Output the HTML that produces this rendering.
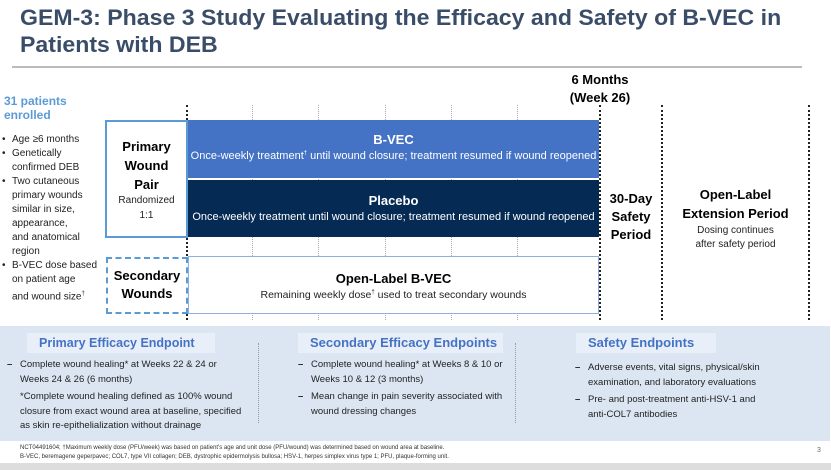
<!DOCTYPE html>
<html><head><meta charset="utf-8"><style>
*{margin:0;padding:0;box-sizing:border-box}
body{width:831px;height:470px;position:relative;background:#fff;font-family:"Liberation Sans",sans-serif;overflow:hidden;color:#000}
.a{position:absolute}
.t{font-weight:bold;color:#3a4d68;font-size:22px;left:20px;transform-origin:left top;transform:scaleX(1.05);white-space:nowrap}
.c{text-align:center;white-space:nowrap}
.vd{position:absolute;width:0;border-left:1px dotted #aaa;top:105px;height:215px}
.vk{position:absolute;width:0;border-left:2px dotted #222;top:105px;height:215px}
ul{list-style:none}
.bl li{position:relative;padding-left:12px;font-size:10px;line-height:14px;color:#222;white-space:nowrap}
.bl li:before{content:"•";position:absolute;left:2px}
.ep li{position:relative;padding-left:13px;font-size:9.5px;line-height:14.5px;color:#222;margin-bottom:3px;white-space:nowrap}
.ep li:before{content:"–";position:absolute;left:0;font-weight:bold}
.hd{position:absolute;top:333px;height:20px;background:#e9eff8;color:#4472c4;font-size:13px;font-weight:bold;padding-left:12px;line-height:20px;white-space:nowrap}
</style></head><body>
<div class="a t" style="top:5px">GEM-3: Phase 3 Study Evaluating the Efficacy and Safety of B-VEC in</div>
<div class="a t" style="top:32px">Patients with DEB</div>
<div class="a" style="left:12px;top:66px;width:790px;height:2px;background:#bbb"></div>

<div class="a" style="left:4px;top:94px;color:#5b9bd5;font-weight:bold;font-size:12px;line-height:14px">31 patients<br>enrolled</div>
<ul class="a bl" style="left:0;top:133px">
<li>Age ≥6 months</li><li>Genetically<br>confirmed DEB</li><li>Two cutaneous<br>primary wounds<br>similar in size,<br>appearance,<br>and anatomical<br>region</li><li>B-VEC dose based<br>on patient age<br>and wound size<sup style="font-size:6px">†</sup></li>
</ul>

<div class="vd" style="left:252px"></div><div class="vd" style="left:318px"></div><div class="vd" style="left:385px"></div><div class="vd" style="left:451px"></div><div class="vd" style="left:517px"></div>
<div class="vk" style="left:186px"></div><div class="vk" style="left:599px"></div><div class="vk" style="left:661px"></div><div class="vk" style="left:808px"></div>

<div class="a" style="left:105px;top:120px;width:83px;height:118px;border:2px solid #5b9bd5;background:#fff"></div>
<div class="a c" style="left:105px;top:137px;width:83px;font-weight:bold;font-size:13px;line-height:19px">Primary<br>Wound<br>Pair</div>
<div class="a c" style="left:105px;top:193px;width:83px;font-size:10px;line-height:15px;color:#222">Randomized<br>1:1</div>

<div class="a" style="left:188px;top:120px;width:411px;height:58px;background:#4472c4"></div>
<div class="a c" style="left:188px;top:132px;width:411px;color:#fff;font-weight:bold;font-size:13px">B-VEC</div>
<div class="a c" style="left:188px;top:150px;width:411px;color:#fff;font-size:11px">Once-weekly treatment<sup style="font-size:6px">†</sup> until wound closure; treatment resumed if wound reopened</div>
<div class="a" style="left:188px;top:180px;width:411px;height:57px;background:#052a54"></div>
<div class="a c" style="left:188px;top:193px;width:411px;color:#fff;font-weight:bold;font-size:13px">Placebo</div>
<div class="a c" style="left:188px;top:211px;width:411px;color:#fff;font-size:11px">Once-weekly treatment until wound closure; treatment resumed if wound reopened</div>

<div class="a" style="left:106px;top:257px;width:82px;height:57px;border:2px dashed #5b9bd5;background:#fff"></div>
<div class="a c" style="left:106px;top:267px;width:82px;font-weight:bold;font-size:13px;line-height:18px">Secondary<br>Wounds</div>
<div class="a" style="left:188px;top:256px;width:411px;height:58px;border:1px solid #8fb0de;background:#fff"></div>
<div class="a c" style="left:188px;top:271px;width:411px;font-weight:bold;font-size:13px">Open-Label B-VEC</div>
<div class="a c" style="left:188px;top:289px;width:411px;font-size:10.5px;color:#222">Remaining weekly dose<sup style="font-size:6px">†</sup> used to treat secondary wounds</div>

<div class="a c" style="left:560px;top:71px;width:80px;font-weight:bold;font-size:13px;line-height:18px">6 Months<br>(Week 26)</div>
<div class="a c" style="left:601px;top:190px;width:60px;font-weight:bold;font-size:13px;line-height:18px">30-Day<br>Safety<br>Period</div>
<div class="a c" style="left:663px;top:185px;width:145px;font-weight:bold;font-size:13px;line-height:19px">Open-Label<br>Extension Period</div>
<div class="a c" style="left:663px;top:224px;width:145px;font-size:10px;line-height:14px;color:#222">Dosing continues<br>after safety period</div>

<div class="a" style="left:0;top:326px;width:830px;height:115px;background:#dce6f2"></div>
<div class="hd" style="left:27px;width:188px;font-size:12.5px">Primary Efficacy Endpoint</div>
<div class="hd" style="left:298px;width:205px">Secondary Efficacy Endpoints</div>
<div class="hd" style="left:576px;width:140px">Safety Endpoints</div>
<div class="a" style="left:258px;top:343px;height:80px;border-left:1px dotted #999"></div>
<div class="a" style="left:515px;top:343px;height:80px;border-left:1px dotted #999"></div>
<ul class="a ep" style="left:7px;top:358px"><li>Complete wound healing* at Weeks 22 &amp; 24 or<br>Weeks 24 &amp; 26 (6 months)</li></ul>
<div class="a" style="left:20px;top:390px;font-size:9.5px;line-height:14.5px;color:#222;white-space:nowrap">*Complete wound healing defined as 100% wound<br>closure from exact wound area at baseline, specified<br>as skin re-epithelialization without drainage</div>
<ul class="a ep" style="left:298px;top:358px"><li>Complete wound healing* at Weeks 8 &amp; 10 or<br>Weeks 10 &amp; 12 (3 months)</li><li>Mean change in pain severity associated with<br>wound dressing changes</li></ul>
<ul class="a ep" style="left:575px;top:361px"><li>Adverse events, vital signs, physical/skin<br>examination, and laboratory evaluations</li><li>Pre- and post-treatment anti-HSV-1 and<br>anti-COL7 antibodies</li></ul>

<div class="a" style="left:20px;top:444px;font-size:6px;line-height:9px;color:#333;white-space:nowrap">NCT04491604; †Maximum weekly dose (PFU/week) was based on patient's age and unit dose (PFU/wound) was determined based on wound area at baseline.<br>B-VEC, beremagene geperpavec; COL7, type VII collagen; DEB, dystrophic epidermolysis bullosa; HSV-1, herpes simplex virus type 1; PFU, plaque-forming unit.</div>
<div class="a" style="left:817px;top:447px;font-size:7px;color:#666">3</div>
<div class="a" style="left:0;top:463px;width:831px;height:7px;background:#ddd"></div>
</body></html>
